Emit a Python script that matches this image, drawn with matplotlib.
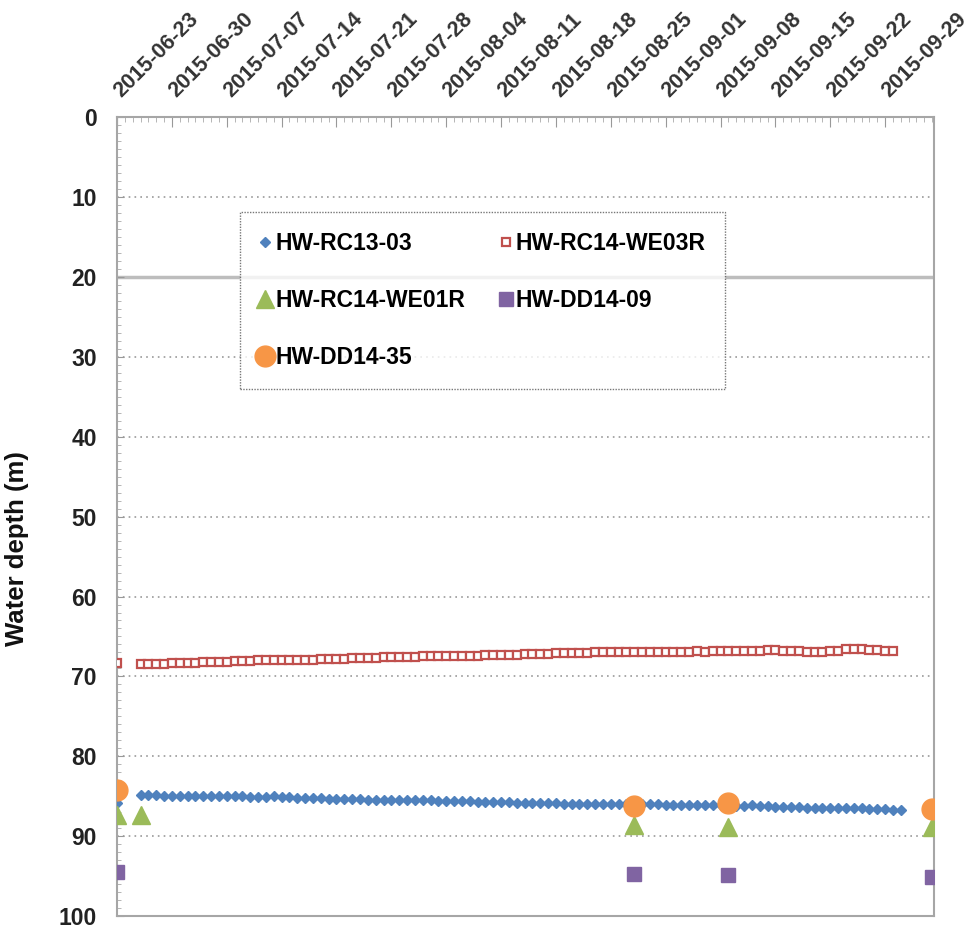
import matplotlib
matplotlib.use('Agg')
import matplotlib.pyplot as plt
import matplotlib.dates as mdates
import matplotlib.transforms as mtransforms
import pandas as pd

plt.rcParams['font.family'] = ['Liberation Sans', 'DejaVu Sans']

# ---------------- data ----------------
rc13_first_date = ['2015-06-23']
rc13_first_val = [85.8]
rc13_start, rc13_end = '2015-06-26', '2015-10-01'
rc13_vals = [
    84.8, 84.8, 84.8, 84.9, 84.9, 84.9, 84.9, 84.9, 85.0, 85.0,
    85.0, 85.0, 85.0, 85.0, 85.1, 85.1, 85.1, 85.0, 85.1, 85.1,
    85.2, 85.2, 85.2, 85.2, 85.3, 85.3, 85.3, 85.3, 85.3, 85.4,
    85.4, 85.4, 85.4, 85.5, 85.5, 85.5, 85.5, 85.5, 85.6, 85.6,
    85.6, 85.6, 85.6, 85.7, 85.7, 85.7, 85.7, 85.7, 85.8, 85.8,
    85.8, 85.8, 85.8, 85.8, 85.9, 85.9, 85.9, 85.9, 85.9, 85.9,
    86.0, 86.0, 86.0, 86.0, 86.0, 86.0, 86.0, 86.1, 86.1, 86.1,
    86.1, 86.1, 86.1, 86.1, 86.1, 86.2, 86.2, 86.2, 86.1, 86.2,
    86.2, 86.3, 86.3, 86.3, 86.3, 86.4, 86.4, 86.4, 86.4, 86.5,
    86.5, 86.5, 86.5, 86.6, 86.6, 86.6, 86.7, 86.7,
]

we03_first_date = ['2015-06-23']
we03_first_val = [68.3]
we03_start, we03_end = '2015-06-26', '2015-09-30'
we03_vals = [
    68.5, 68.5, 68.4, 68.4, 68.3, 68.3, 68.3, 68.3, 68.2, 68.2,
    68.2, 68.2, 68.1, 68.1, 68.1, 68.0, 68.0, 68.0, 68.0, 67.9,
    67.9, 67.9, 67.9, 67.8, 67.8, 67.8, 67.8, 67.7, 67.7, 67.7,
    67.7, 67.6, 67.6, 67.6, 67.6, 67.6, 67.5, 67.5, 67.5, 67.5,
    67.4, 67.4, 67.4, 67.4, 67.3, 67.3, 67.3, 67.3, 67.3, 67.2,
    67.2, 67.2, 67.2, 67.1, 67.1, 67.1, 67.1, 67.1, 67.0, 67.0,
    67.0, 67.0, 67.0, 66.9, 67.0, 67.0, 66.9, 66.9, 66.9, 66.9,
    66.9, 66.8, 66.9, 66.8, 66.8, 66.8, 66.8, 66.8, 66.8, 66.8,
    66.7, 66.7, 66.8, 66.8, 66.8, 66.9, 66.9, 66.9, 66.8, 66.8,
    66.6, 66.6, 66.6, 66.7, 66.7, 66.8, 66.8,
]

we01_dates = ['2015-06-23', '2015-06-26', '2015-08-28', '2015-09-09', '2015-10-05']
we01_vals = [87.3, 87.3, 88.6, 88.8, 88.9]

dd09_dates = ['2015-06-23', '2015-08-28', '2015-09-09', '2015-10-05']
dd09_vals = [94.5, 94.7, 94.9, 95.1]

dd35_dates = ['2015-06-23', '2015-08-28', '2015-09-09', '2015-10-05']
dd35_vals = [84.2, 86.2, 85.8, 86.6]

tick_dates = ['2015-06-23', '2015-06-30', '2015-07-07', '2015-07-14', '2015-07-21',
              '2015-07-28', '2015-08-04', '2015-08-11', '2015-08-18', '2015-08-25',
              '2015-09-01', '2015-09-08', '2015-09-15', '2015-09-22', '2015-09-29']
y_ticks = [0, 10, 20, 30, 40, 50, 60, 70, 80, 90, 100]

# ---------------- build x ----------------
rc13_x = list(pd.to_datetime(rc13_first_date)) + list(pd.date_range(rc13_start, rc13_end, freq='D'))
rc13_y = rc13_first_val + rc13_vals
we03_x = list(pd.to_datetime(we03_first_date)) + list(pd.date_range(we03_start, we03_end, freq='D'))
we03_y = we03_first_val + we03_vals

fig = plt.figure(figsize=(9.72, 9.33), dpi=100)
ax = fig.add_axes([0.1204, 0.018, 0.8406, 0.8566])

blue = '#4F81BD'
red = '#C0504D'
green = '#9BBB59'
purple = '#8064A2'
orange = '#F79646'

# grid lines
for yv in y_ticks[1:-1]:
    if yv == 20:
        ax.axhline(yv, color='#bdbdbd', lw=2.5, ls='-', zorder=1)
    else:
        ax.axhline(yv, color='#9a9a9a', lw=1.2, ls=(0, (1, 2.5)), zorder=1)

h1, = ax.plot(rc13_x, rc13_y, ls='none', marker='D', ms=4.8, color=blue,
              mec=blue, label='HW-RC13-03', zorder=3)
h2, = ax.plot(we03_x, we03_y, ls='none', marker='s', ms=6, mfc='white',
              mec=red, mew=1.6, label='HW-RC14-WE03R', zorder=3)
h3, = ax.plot(pd.to_datetime(we01_dates), we01_vals, ls='none', marker='^', ms=13.5,
              color=green, label='HW-RC14-WE01R', zorder=4)
h4, = ax.plot(pd.to_datetime(dd09_dates), dd09_vals, ls='none', marker='s', ms=10,
              color=purple, label='HW-DD14-09', zorder=4)
h5, = ax.plot(pd.to_datetime(dd35_dates), dd35_vals, ls='none', marker='o', ms=15,
              color=orange, label='HW-DD14-35', zorder=5)

ax.set_ylim(100, 0)
ax.set_xlim(pd.Timestamp('2015-06-23'), pd.Timestamp('2015-10-05 06:00'))
ax.set_yticks(y_ticks)
ax.set_yticklabels([str(v) for v in y_ticks], fontsize=16.5, fontweight='bold', color='#222222')
ax.yaxis.set_minor_locator(matplotlib.ticker.MultipleLocator(1))

# x ticks on top; labels drawn as rotated texts anchored at each tick
ax.xaxis.tick_top()
tick_ts = pd.to_datetime(tick_dates)
ax.set_xticks(tick_ts)
ax.set_xticklabels([])
ax.xaxis.set_minor_locator(mdates.DayLocator())
base = mtransforms.blended_transform_factory(ax.transData, ax.transAxes)
lab_tr = mtransforms.offset_copy(base, fig=fig, x=4, y=19, units='dots')
for t, s in zip(tick_ts, tick_dates):
    ax.text(t, 1.0, s, transform=lab_tr, rotation=45, ha='left', va='baseline',
            rotation_mode='anchor', fontsize=15.5, fontweight='bold', color='#333333',
            clip_on=False)

ax.tick_params(axis='x', which='major', direction='in', length=7, color='#999999')
ax.tick_params(axis='x', which='minor', direction='in', length=3.5, color='#aaaaaa', top=True)
ax.tick_params(axis='y', which='major', direction='in', length=5, color='#999999', pad=14.5)
ax.tick_params(axis='y', which='minor', direction='in', length=3, color='#aaaaaa')

for s in ax.spines.values():
    s.set_color('#a6a6a6')
    s.set_linewidth(1.5)

ax.set_ylabel('Water depth (m)', fontsize=18.5, fontweight='bold', color='#111111')
ax.yaxis.set_label_coords(-0.108, 0.46)

leg = ax.legend(handles=[h1, h3, h5, h2, h4], ncol=2, loc='upper left',
                bbox_to_anchor=(0.1506, 0.881), fancybox=False, frameon=True,
                prop={'weight': 'bold', 'size': 16.5}, labelspacing=1.5,
                handlelength=0.5, handletextpad=0.2, columnspacing=1.5,
                borderpad=0.85, borderaxespad=0)
leg.get_frame().set_edgecolor('#555555')
leg.get_frame().set_linewidth(1.0)
leg.get_frame().set_linestyle((0, (1, 1)))
leg.set_zorder(10)

fig.savefig('out.png', dpi=100, facecolor='white')
